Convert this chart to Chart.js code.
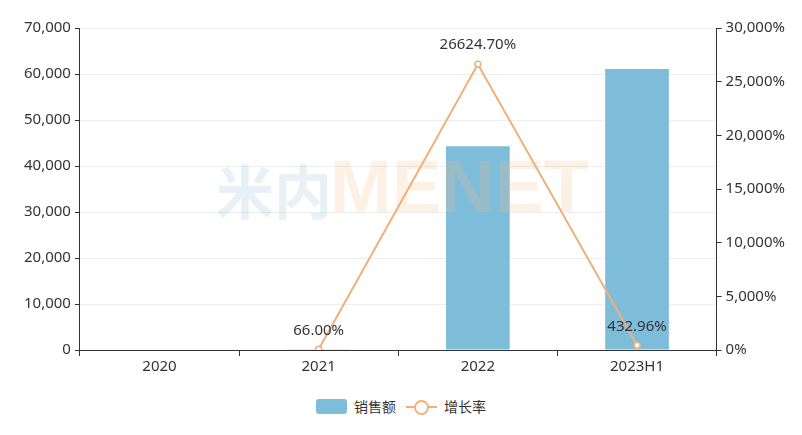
<!DOCTYPE html>
<html lang="zh">
<head>
    <meta charset="UTF-8">
    <title>销售额与增长率</title>
    <script src="https://cdn.jsdelivr.net/npm/chart.js"></script>
    <style>
        body { margin: 0; background: #fff; font-family: "Noto Sans", "Noto Sans CJK SC", sans-serif; }
        #wrap { position: relative; width: 802px; height: 435px; }
        #legend { position: absolute; left: 0; top: 396px; width: 802px; display: flex; justify-content: center; align-items: center; font-size: 14px; color: #333; font-family: "Noto Sans CJK SC", sans-serif; }
        .item { display: flex; align-items: center; margin: 0 5px; }
        .bar-sw { width: 31px; height: 15px; background: #7ebdda; border-radius: 3px; margin-right: 7px; }
        .line-sw { position: relative; width: 31px; height: 15px; margin-right: 7px; }
        .line-sw:before { content: ""; position: absolute; left: 0; right: 0; top: 7px; height: 2px; background: #f0b07a; }
        .line-sw:after { content: ""; position: absolute; left: 8px; top: 1px; width: 11px; height: 11px; border: 2px solid #f0b07a; border-radius: 50%; background: #fff; }
    </style>
</head>
<body>
<div id="wrap">
    <canvas id="chart" width="802" height="385"></canvas>
    <div id="legend">
        <div class="item"><div class="bar-sw"></div>销售额</div>
        <div class="item"><div class="line-sw"></div>增长率</div>
    </div>
</div>
<script>
    // data
    const categories = ['2020', '2021', '2022', '2023H1'];
    const sales = [100, 166, 44300, 61100];
    const growth = [null, 66.00, 26624.70, 432.96];
    const growthLabels = [null, '66.00%', '26624.70%', '432.96%'];

    const barColor = '#7ebdda';
    const lineColor = '#f0b07a';

    // watermark drawn right after the bars, under the line
    const watermark = {
        id: 'watermark',
        afterDatasetDraw(chart, args) {
            if (args.index !== 0) return;
            const c = chart.ctx;
            c.save();
            c.textBaseline = 'middle';
            c.font = 'bold 58px "Noto Sans CJK SC"';
            c.fillStyle = 'rgba(150,190,210,0.22)';
            c.fillText('米内', 216, 192);
            c.font = 'bold 74px "Liberation Sans"';
            c.fillStyle = 'rgba(248,190,140,0.22)';
            c.fillText('MENET', 330, 192);
            c.restore();
        }
    };

    // percentage labels over the line points
    const pointLabels = {
        id: 'pointLabels',
        afterDatasetsDraw(chart) {
            const c = chart.ctx;
            const meta = chart.getDatasetMeta(1);
            c.save();
            c.font = '15px "Noto Sans"';
            c.fillStyle = '#333';
            c.textAlign = 'center';
            c.textBaseline = 'middle';
            meta.data.forEach((pt, i) => {
                if (growthLabels[i] == null) return;
                c.fillText(growthLabels[i], pt.x, pt.y - 19);
            });
            c.restore();
        }
    };

    const tickFont = { size: 15, family: 'Noto Sans' };

    const ctx = document.getElementById('chart').getContext('2d');
    new Chart(ctx, {
        data: {
            labels: categories,
            datasets: [{
                type: 'bar',
                label: '销售额',
                data: sales,
                backgroundColor: barColor,
                barPercentage: 0.4,
                categoryPercentage: 1,
                yAxisID: 'y',
                order: 1
            }, {
                type: 'line',
                label: '增长率',
                data: growth,
                borderColor: lineColor,
                borderWidth: 2,
                pointRadius: 3,
                pointBorderWidth: 1.5,
                pointBackgroundColor: '#fff',
                pointBorderColor: lineColor,
                tension: 0,
                yAxisID: 'y1',
                order: 0
            }]
        },
        options: {
            responsive: false,
            animation: false,
            layout: { padding: { top: 28, right: 13, left: 20, bottom: 7 } },
            plugins: { legend: { display: false }, tooltip: { enabled: false } },
            scales: {
                x: {
                    grid: { drawOnChartArea: false, tickColor: '#333', tickLength: 6 },
                    border: { color: '#333' },
                    ticks: { color: '#333', font: tickFont, padding: 2 }
                },
                y: {
                    position: 'left',
                    min: 0, max: 70000,
                    ticks: { stepSize: 10000, color: '#333', font: tickFont, padding: 4,
                        callback: v => v.toLocaleString('en-US') },
                    grid: { color: '#eeeeee', tickColor: '#333', tickLength: 5 },
                    border: { color: '#333' }
                },
                y1: {
                    position: 'right',
                    min: 0, max: 30000,
                    ticks: { stepSize: 5000, color: '#333', font: tickFont, padding: 4,
                        callback: v => v.toLocaleString('en-US') + '%' },
                    grid: { drawOnChartArea: false, tickColor: '#333', tickLength: 5 },
                    border: { color: '#333' }
                }
            }
        },
        plugins: [watermark, pointLabels]
    });
</script>
</body>
</html>
